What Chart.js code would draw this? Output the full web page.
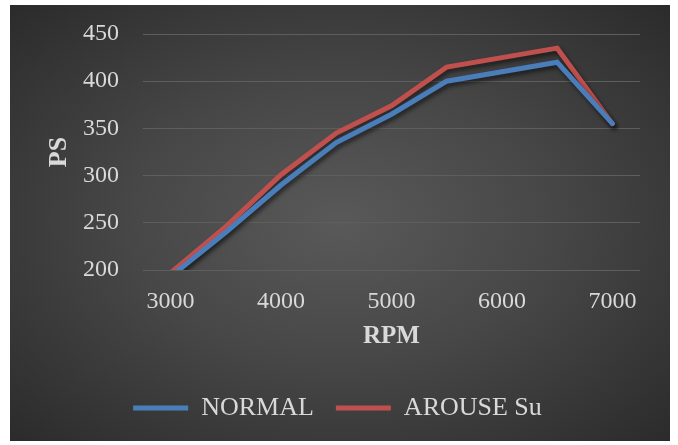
<!DOCTYPE html>
<html>
<head>
<meta charset="utf-8">
<script src="https://cdn.jsdelivr.net/npm/chart.js@4/dist/chart.umd.min.js"></script>
<style>
  body { margin: 0; background: #ffffff; }
  #panel {
    position: absolute; left: 10px; top: 5px; width: 660px; height: 436px;
    background: radial-gradient(ellipse at 50% 50%, #595959 0%, #474747 45%, #2b2b2b 100%);
  }
</style>
</head>
<body>
<div id="panel"><canvas id="psChart"></canvas></div>
<script>
// rpm categories, every other one gets a label
const rpmLabels = ['3000', '3500', '4000', '4500', '5000', '5500', '6000', '6500', '7000'];
const normalPs = [193, 240, 290, 335, 365, 400, 410, 420, 355];
const arousePs = [197, 246, 301, 345, 374, 415, 425, 435, 355];
const yTicks = [200, 250, 300, 350, 400, 450];

const textColor = '#d9d9d9';
const serif = "'Liberation Serif', 'DejaVu Serif', serif";

// dark drop shadow under the lines, like the excel original
const lineShadow = {
  id: 'lineShadow',
  beforeDatasetsDraw(chart) {
    const ctx = chart.ctx;
    ctx.save();
    ctx.shadowColor = 'rgba(0,0,0,0.55)';
    ctx.shadowBlur = 4;
    ctx.shadowOffsetX = 2;
    ctx.shadowOffsetY = 3;
  },
  afterDatasetsDraw(chart) {
    chart.ctx.restore();
  }
};

const ctx = document.getElementById('psChart');
new Chart(ctx, {
  type: 'line',
  data: {
    labels: rpmLabels,
    datasets: [{
      label: 'NORMAL',
      data: normalPs,
      borderColor: '#4a7ebb',
      backgroundColor: '#4a7ebb',
      borderWidth: 5,
      borderCapStyle: 'round',
      pointRadius: 0,
      tension: 0,
      clip: 0
    }, {
      label: 'AROUSE Su',
      data: arousePs,
      borderColor: '#c0504d',
      backgroundColor: '#c0504d',
      borderWidth: 5,
      borderCapStyle: 'round',
      pointRadius: 0,
      tension: 0,
      clip: 0
    }]
  },
  options: {
    responsive: true,
    maintainAspectRatio: false,
    animation: false,
    layout: { padding: { left: 25, right: 30, top: 29, bottom: 10 } },
    plugins: {
      tooltip: { enabled: false },
      legend: {
        position: 'bottom',
        labels: {
          color: textColor,
          font: { family: serif, size: 26 },
          usePointStyle: true,
          pointStyle: 'line',
          pointStyleWidth: 55,
          padding: 22
        }
      }
    },
    scales: {
      x: {
        offset: true,
        grid: { display: false, drawTicks: false },
        border: { display: false },
        afterFit: (axis) => { axis.height = 103; },
        ticks: {
          color: textColor,
          font: { family: serif, size: 24 },
          autoSkip: false,
          maxRotation: 0,
          padding: 17,
          callback: (v, i) => (i % 2 === 0 ? rpmLabels[i] : '')
        },
        title: {
          display: true,
          text: 'RPM',
          color: textColor,
          font: { family: serif, size: 25, weight: 'bold' },
          padding: { top: 0, bottom: 21 }
        }
      },
      y: {
        min: yTicks[0],
        max: yTicks[yTicks.length - 1],
        grid: { color: '#5e5e5e', lineWidth: 1, drawTicks: false },
        border: { display: false },
        afterBuildTicks: (axis) => { axis.ticks = yTicks.map(v => ({ value: v })); },
        afterFit: (axis) => {
          axis.width = 108;
          // tick padding would otherwise push the plot down
          axis.paddingTop = 0;
          axis.paddingBottom = 0;
        },
        ticks: {
          color: textColor,
          font: { family: serif, size: 24 },
          padding: 24
        },
        title: {
          display: true,
          text: 'PS',
          color: textColor,
          font: { family: serif, size: 26, weight: 'bold' },
          padding: { top: 9, bottom: 0 }
        }
      }
    }
  },
  plugins: [lineShadow]
});
</script>
</body>
</html>
